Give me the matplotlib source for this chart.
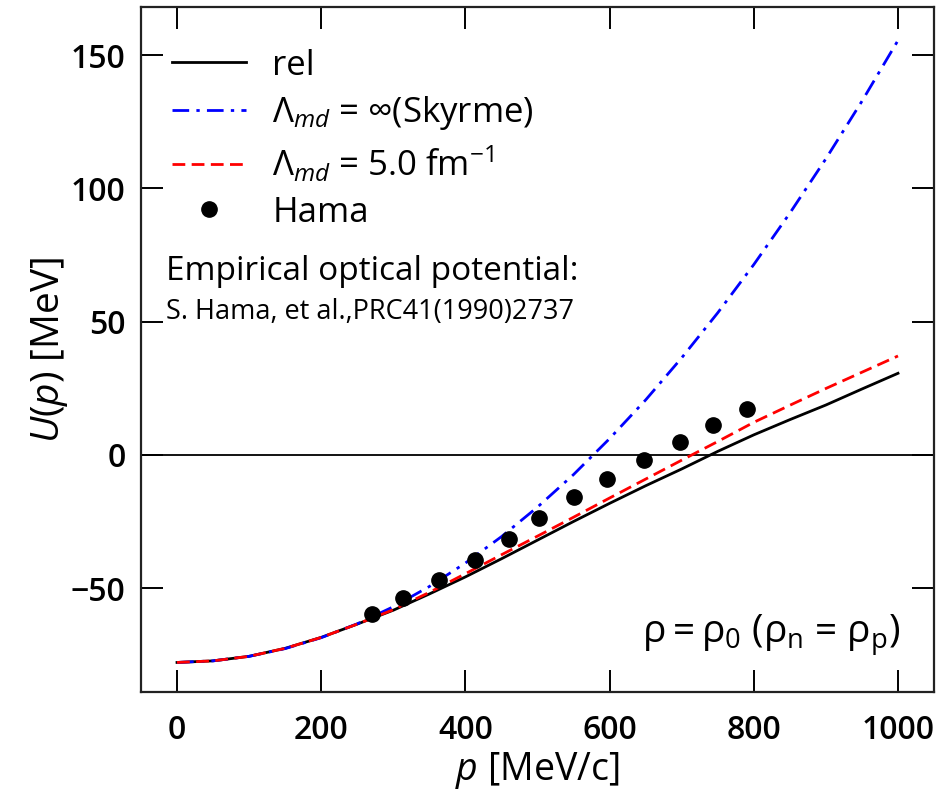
import numpy as np
import matplotlib
matplotlib.use("Agg")
import matplotlib.pyplot as plt

FONT = ["Open Sans", "DejaVu Sans"]
plt.rcParams["font.family"] = FONT
plt.rcParams["mathtext.fontset"] = "custom"
plt.rcParams["mathtext.rm"] = "Open Sans"
plt.rcParams["mathtext.it"] = "Open Sans:italic"
plt.rcParams["mathtext.bf"] = "Open Sans:bold"

# Momentum grid [MeV/c]
p = [0, 50, 100, 150, 200, 250, 300, 350, 400, 450, 500,
     550, 600, 650, 700, 750, 800, 850, 900, 950, 1000]

# Single-particle potential U(p) [MeV]
u_rel = [-77.9, -77.3, -75.6, -72.6, -68.5, -63.5, -58.3, -52.2, -45.8, -39.0, -32.0,
         -25.0, -18.2, -11.6, -5.3, 1.3, 7.5, 13.2, 18.7, 24.7, 30.6]
u_skyrme = [-77.9, -77.3, -75.6, -72.7, -68.6, -63.4, -57.0, -49.4, -40.6, -30.7, -19.6,
            -7.4, 6.1, 20.6, 36.4, 53.3, 71.4, 90.7, 111.1, 132.7, 155.5]
u_lmd5 = [-77.9, -77.3, -75.6, -72.6, -68.5, -63.5, -58.1, -51.6, -44.6, -37.5, -30.5,
          -23.4, -16.2, -9.1, -2.0, 5.0, 12.2, 18.6, 24.9, 31.0, 37.1]

# Empirical optical potential (Hama et al.)
p_hama = [270, 313, 364, 414, 460, 502, 550, 596, 648, 697, 744, 791]
u_hama = [-59.7, -53.7, -46.9, -39.5, -31.5, -23.7, -15.7, -8.9, -1.9, 4.9, 11.2, 17.2]

fig = plt.figure(figsize=(9.41, 7.90), dpi=100)
ax = fig.add_axes([0.1498, 0.124, 0.8428, 0.867])

ax.axhline(0, color="black", lw=1.3, zorder=1)
ax.plot(p, u_rel, color="black", lw=2.0, ls="-", label="rel", zorder=3)
ax.plot(p, u_skyrme, color="blue", lw=2.0, ls=(0, (6, 2.6, 1.2, 2.6)),
        label="Λ$_{md}$ = ∞(Skyrme)", zorder=3)
ax.plot(p, u_lmd5, color="red", lw=2.0, ls=(0, (4.6, 2.3)),
        label="Λ$_{md}$ = 5.0 fm$^{-1}$", zorder=4)
ax.plot(p_hama, u_hama, ls="none", marker="o", ms=11, color="black",
        label="Hama", zorder=5)

ax.set_xlim(-50, 1050)
ax.set_ylim(-89, 168)
ax.set_xticks([0, 200, 400, 600, 800, 1000])
ax.set_yticks([-50, 0, 50, 100, 150])
ax.set_yticklabels(["\u221250", "0", "50", "100", "150"])

ax.tick_params(direction="in", length=16, width=1.4, top=True, right=True,
               labelsize=23)
ax.tick_params(axis="x", pad=16)
ax.tick_params(axis="y", pad=11)
for lab in ax.get_xticklabels() + ax.get_yticklabels():
    lab.set_fontweight("semibold")
for s in ax.spines.values():
    s.set_linewidth(1.6)
    s.set_color("#222222")

ax.set_xlabel("$p$ [MeV/c]", fontsize=27, labelpad=2)
ax.set_ylabel("$U(p)$ [MeV]", fontsize=28, labelpad=1)

leg = ax.legend(loc="upper left", bbox_to_anchor=(0.0, 0.985), frameon=False,
                fontsize=25, handlelength=2.13, handletextpad=0.75,
                labelspacing=0.33, borderaxespad=0.5)

ax.text(-15, 65.5, "Empirical optical potential:", fontsize=24, ha="left",
        va="baseline")
ax.text(-15, 50.9, "S. Hama, et al.,PRC41(1990)2737", fontsize=19.5, ha="left",
        va="baseline")
ax.text(1004, -70.5, "ρ$=$ρ$_0$ (ρ$_\\mathrm{n}$ = ρ$_\\mathrm{p}$)", fontsize=28,
        ha="right", va="baseline")

fig.savefig("out.png", dpi=100)
